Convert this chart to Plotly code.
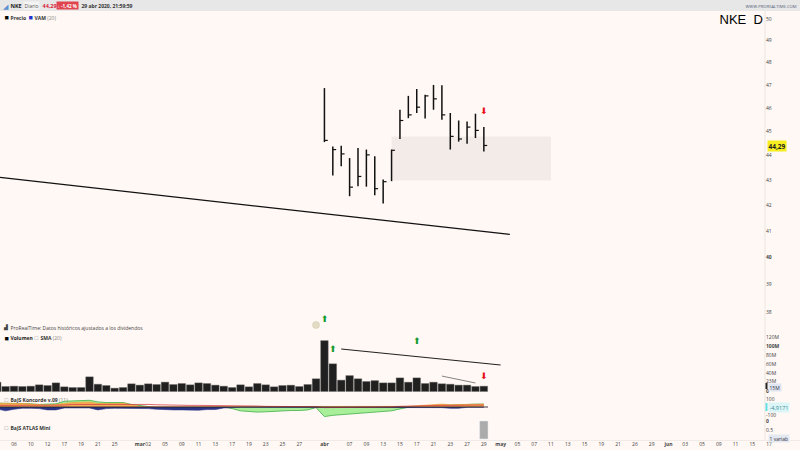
import math
import plotly.graph_objects as go

# ---------- data ----------
price_idx = list(range(38, 58))
price_high = [46.87,44.38,44.41,43.90,44.32,44.25,43.97,43.03,44.25,45.93,46.53,46.83,46.58,47.01,47.00,45.79,45.47,45.43,45.76,45.19]
price_low  = [44.56,43.19,43.56,42.36,42.76,42.74,42.40,42.07,42.96,44.69,45.57,45.79,45.56,45.93,45.50,44.25,44.58,44.49,44.73,44.17]
price_close= [44.63,44.25,44.07,42.72,43.15,44.03,42.66,42.94,44.22,45.47,45.71,46.04,46.53,46.40,45.71,44.80,44.69,45.19,45.05,44.42]

vol_idx = list(range(-1, 58))
volume = [20.6,11,11.7,11,11.7,14.7,13.2,19,10.3,8.8,8.8,32.3,16,13.2,7.3,8.8,16.9,14,16.9,15.4,20.6,15.4,17.6,14.7,19,17.6,14,11.7,8.8,14.7,10.3,17.6,
          14.7,10.3,13.2,13.9,11,15.4,28,112,61,25,35,28,22,24,19,19,30,20.5,30,17.6,20.5,17,16,14,14,11,11.7]

k_green = [48,48,48,48,40,32,32,40,72,80,80,84,64,56,56,56,32,16,4,-8,-12,-12,-20,-20,-20,-12,-8,0,-20,-48,-56,-64,
           -60,-52,-48,-44,-44,-36,-8,-120,-104,-96,-88,-72,-64,-60,-56,-48,-24,-4,4,12,20,28,24,24,32,36,36]
k_orange = [48,48,44,44,36,28,24,32,48,56,60,64,44,40,44,48,24,8,4,4,0,0,0,0,0,0,0,0,0,0,0,0,
            0,0,0,0,0,0,0,0,0,0,0,0,0,0,0,0,4,8,16,20,32,36,28,28,32,36,36]
k_blue = [-24,-48,-28,-16,-16,-20,-36,-36,-12,-12,-12,-12,-36,-20,-16,-16,-12,-16,-20,-28,-36,-36,-36,-40,-40,-32,-32,-12,-4,-4,-4,-4,
          -4,-4,-4,-4,-4,-4,-4,-4,-4,-4,-4,-4,-4,-4,-4,-4,-4,-4,-4,-4,-8,-8,-16,-16,-4,-4,-4]
k_red = [20,20,20,20,20,20,20,20,24,32,32,32,32,32,32,36,40,36,32,28,24,24,20,20,20,20,16,16,12,12,12,12,
         8,8,8,8,8,8,4,-8,-8,-8,-4,-4,-4,-4,-4,0,8,12,16,16,20,20,20,24,24,24,24]

atlas_idx = [57]
atlas_val = [1]

zone_x = [46, 65, 65, 46, 46]
zone_y = [44.79, 44.79, 42.99, 42.99, 44.79]
trend_x = [-0.667, 60.1]
trend_y = [43.11, 40.87]
vtrend1_x = [40, 59]
vtrend1_y = [93.6, 58.4]
vtrend2_x = [52, 56]
vtrend2_y = [34, 18.7]

tick_idx = [1,3,5,7,9,11,13,16,17,19,21,23,25,27,29,31,33,35,38,41,43,45,47,49,51,53,55,57,59,61,63,65,67,69,71,73,75,77,79,81,83,85,87,89,91]
tick_txt = ["06","10","12","17","19","21","25","<b>mar</b>","02","05","09","11","13","17","19","23","25","27","<b>abr</b>","07","09","13","15","17","21","23","27","29","<b>may</b>","05","07","11","13","15","19","21","26","29","<b>jun</b>","03","05","09","11","15","17"]

p_ticks = [50,49,48,47,46,45,44,43,42,41,40,39,38]
p_text = ["50","49","48","47","46","45","44","43","42","41","<b>40</b>","39","38"]
v_ticks = [0,23,40,60,80,100,120]
v_text = ["<b>0</b>","23M","40M","60M","80M","<b>100M</b>","120M"]

# ---------- helpers ----------
W, H = 800, 450
def dom(top, bot):
    return [1 - bot / H, 1 - top / H]
def px(x): return x / W
def py(y): return 1 - y / H

BG = "#fff8f4"
FONT = "Open Sans"
fig = go.Figure()

def arrow(x, y, up, axis):
    fig.add_trace(go.Scatter(x=x, y=y, mode="text", yaxis=axis, text=["⬆" if up else "⬇"] * len(x),
                             textposition="middle center",
                             textfont=dict(family="DejaVu Sans", size=9, color="#149a2c" if up else "#e8101a")))

# zone
fig.add_trace(go.Scatter(x=zone_x, y=zone_y, mode="lines", fill="toself", fillcolor="#f3ebe8",
                         line=dict(width=0), yaxis="y", hoverinfo="skip"))
# trend
fig.add_trace(go.Scatter(x=trend_x, y=trend_y, mode="lines", line=dict(color="#111", width=1.2), yaxis="y"))
# price bars (high-low + close tick)
vx, vy, cx, cy = [], [], [], []
for i, h, l, c in zip(price_idx, price_high, price_low, price_close):
    vx += [i, i, None]; vy += [h, l, None]
    cx += [i, i + 0.4, None]; cy += [c, c, None]
fig.add_trace(go.Scatter(x=vx, y=vy, mode="lines", line=dict(color="#111", width=1.5), yaxis="y"))
fig.add_trace(go.Scatter(x=cx, y=cy, mode="lines", line=dict(color="#111", width=1.2), yaxis="y"))

# signals on price pane
arrow([57], [45.84], False, "y")
arrow([38], [37.72], True, "y")
fig.add_trace(go.Scatter(x=[37], y=[37.55], mode="markers", yaxis="y",
                         marker=dict(symbol="circle", size=7, color="#e3dcc4", line=dict(color="#cfc6a8", width=0.5))))

# volume
fig.add_trace(go.Bar(x=vol_idx, y=volume, width=0.9, marker=dict(color="#202020", line=dict(color="#6a6a6a", width=0.4)), yaxis="y2"))
fig.add_trace(go.Scatter(x=vtrend1_x, y=vtrend1_y, mode="lines", line=dict(color="#222", width=1.1), yaxis="y2"))
fig.add_trace(go.Scatter(x=vtrend2_x, y=vtrend2_y, mode="lines", line=dict(color="#777", width=0.9), yaxis="y2"))
arrow([39, 49], [91, 109], True, "y2")
arrow([57], [32], False, "y2")

# Koncorde
k_x = vol_idx
fig.add_trace(go.Scatter(x=k_x, y=k_green, mode="lines", fill="tozeroy", fillcolor="#a9ee98",
                         line=dict(color="#3fae45", width=0.8), yaxis="y3"))
fig.add_trace(go.Scatter(x=k_x, y=k_orange, mode="lines", fill="tozeroy", fillcolor="#f6ae55",
                         line=dict(color="#f09a30", width=0.6), yaxis="y3"))
fig.add_trace(go.Scatter(x=k_x, y=k_blue, mode="lines", fill="tozeroy", fillcolor="#2b3585",
                         line=dict(color="#2b3585", width=0.6), yaxis="y3"))
fig.add_trace(go.Scatter(x=k_x, y=k_red, mode="lines", line=dict(color="#d8434a", width=0.8), yaxis="y3"))

# Atlas
fig.add_trace(go.Bar(x=atlas_idx, y=atlas_val, width=1.0, marker=dict(color="#ababab"), yaxis="y4"))

axis_font = dict(family=FONT, size=5, color="#444")
common_y = dict(anchor="free", position=765 / W, side="right", showgrid=False, zeroline=False,
                showline=False, ticks="", tickfont=axis_font, automargin=False)

fig.update_layout(
    width=W, height=H, autosize=False, margin=dict(l=0, r=0, t=0, b=0),
    paper_bgcolor=BG, plot_bgcolor="rgba(0,0,0,0)", showlegend=False, barmode="overlay",
    font=dict(family=FONT),
    xaxis=dict(domain=[0, 1], range=[-0.667, 94.68], anchor="y4", showgrid=False, zeroline=False,
               showline=False, ticks="", tickmode="array", tickvals=tick_idx, ticktext=tick_txt,
               tickfont=axis_font, tickangle=0, automargin=False),
    yaxis=dict(domain=dom(12, 335), type="log",
               range=[math.log10(37.2), math.log10(50.33)],
               tickmode="array", tickvals=p_ticks, ticktext=p_text, **common_y),
    yaxis2=dict(domain=dom(335, 392), range=[-1.1, 124.4],
                tickmode="array", tickvals=v_ticks, ticktext=v_text, **common_y),
    yaxis3=dict(domain=dom(393, 418), range=[-137.5, 175],
                tickmode="array", tickvals=[100, -100], ticktext=["100", "-100"], **common_y),
    yaxis4=dict(domain=dom(419, 440), range=[1.055, -0.11],
                tickmode="array", tickvals=[0, 0.5], ticktext=["<b>0</b>", "0.5"], **common_y),
    shapes=[
        dict(type="rect", xref="paper", yref="paper", x0=0, x1=1, y0=py(11), y1=1,
             fillcolor="#e7e7e7", line=dict(width=0), layer="below"),
        dict(type="line", xref="paper", yref="paper", x0=px(765), x1=px(765), y0=py(440), y1=py(11),
             line=dict(color="#ebe6e2", width=1), layer="below"),
        dict(type="line", xref="paper", yref="paper", x0=0, x1=1, y0=py(440.5), y1=py(440.5),
             line=dict(color="#ece7e3", width=0.8), layer="below"),
        dict(type="line", xref="x", yref="y3", x0=-0.667, x1=57.5, y0=0, y1=0,
             line=dict(color="#2a1f2a", width=0.9)),
    ],
)

def note(x, y, text, size=5.5, color="#333", bg=None, family=FONT, anchor="left"):
    fig.add_annotation(xref="paper", yref="paper", x=px(x), y=py(y), text=text, showarrow=False,
                       xanchor=anchor, yanchor="middle", borderpad=0.5,
                       font=dict(family=family, size=size, color=color),
                       bgcolor=bg if bg else "rgba(0,0,0,0)")

# header
note(1, 5.5, "◢", 7, "#5b8fd0")
note(9, 5.5, "<b>NKE</b>", 5.5, "#222")
note(23, 5.5, "Diario", 5, "#555", bg="#f4f4f4")
note(41, 5.5, "<b>44,29</b>", 5.5, "#d8203a")
note(56, 5.5, "<b>↓ -1,42 %</b>", 4.6, "#ffffff", bg="#e0444f")
note(80, 5.5, "<b>29 abr 2020, 21:59:59</b>", 5, "#333")
note(798, 5.5, "WWW.PROREALTIME.COM", 4.2, "#55607a", anchor="right")

# legends
note(3, 17, "■", 7, "#000")
note(9, 17, "<b>Precio</b>", 5, "#333")
note(27, 17, "■", 7, "#1f2fd0")
note(33, 17, "<b>VAM</b> <span style='color:#888'>(20)</span>", 5, "#333")

note(718, 19, "NKE", 13, "#000", family="Liberation Sans")
note(752, 19, "D", 13, "#000", family="Liberation Sans")

note(1, 327, "▟", 5, "#444")
note(9, 327, "ProRealTime: Datos históricos ajustados a los dividendos", 5, "#444")
note(3, 337.5, "■", 7, "#000")
note(9, 337.5, "<b>Volumen</b>", 5, "#222")
note(33, 337.5, "□", 6, "#99a")
note(39, 337.5, "<b>SMA</b> <span style='color:#888'>(20)</span>", 5, "#333")
note(3, 399, "□", 6, "#889")
note(9, 399, "<b>BaJS Koncorde v.09</b> <span style='color:#888'>(11)</span>", 5, "#333")
note(3, 427, "□", 6, "#889")
note(9, 427, "<b>BaJS ATLAS Mini</b>", 5, "#333")

# right-hand value tags
note(767, 146, "<b>44,29</b>", 6.5, "#222", bg="#f6ee20")
note(768, 387, "15M", 5, "#334", bg="#dfe6f2")
note(768, 407, "-4,9171", 5.5, "#3a8a94", bg="#dcf6f8")
note(768, 438, "1 variab", 5, "#334", bg="#e4e8f0")
fig.add_shape(type="rect", xref="paper", yref="paper", x0=px(765.5), x1=px(767.5), y0=py(389), y1=py(383),
              fillcolor="#222", line=dict(width=0))
fig.add_shape(type="rect", xref="paper", yref="paper", x0=px(765.5), x1=px(767.5), y0=py(411), y1=py(403),
              fillcolor="#5fe0e8", line=dict(width=0))

fig.write_html("out.html", config={"displayModeBar": False},
               post_script="document.body.style.margin='0';document.body.style.overflow='hidden';document.documentElement.style.background='#fff8f4';")
